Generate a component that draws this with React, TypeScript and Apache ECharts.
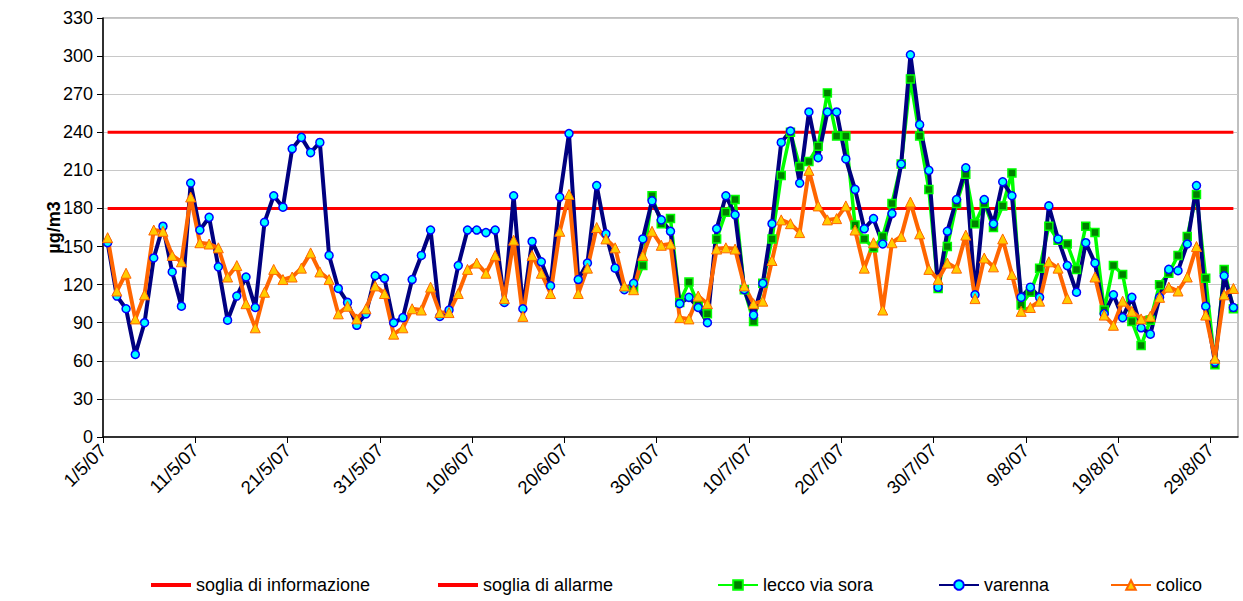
import React, { useEffect, useRef } from "react";
import * as echarts from "echarts";

// x tick labels (every 10 days starting 1/5/07)
const tickLabels = [
  "1/5/07", "11/5/07", "21/5/07", "31/5/07", "10/6/07", "20/6/07", "30/6/07",
  "10/7/07", "20/7/07", "30/7/07", "9/8/07", "19/8/07", "29/8/07",
];

const sogliaInformazione = 180;
const sogliaAllarme = 240;

// daily values, day 0 = 1/5/07 ... day 122 = 31/8/07
const varenna: (number | null)[] = [
  153, 111, 101, 65, 90, 141, 166, 130, 103, 200,
  163, 173, 134, 92, 111, 126, 102, 169, 190, 181,
  227, 236, 224, 232, 143, 117, 106, 88, 97, 127,
  125, 90, 94, 124, 143, 163, 95, 100, 135, 163,
  163, 161, 163, 106, 190, 101, 154, 138, 119, 189,
  239, 124, 137, 198, 160, 133, 116, 121, 156, 186,
  171, 162, 105, 110, 102, 90, 164, 190, 175, 116,
  96, 121, 168, 232, 241, 200, 256, 220, 256, 256,
  219, 195, 164, 172, 152, 176, 215, 301, 246, 210,
  118, 162, 187, 212, 112, 187, 168, 201, 190, 110,
  118, 110, 182, 156, 135, 114, 153, 137, 97, 112,
  94, 110, 86, 81, 110, 132, 131, 152, 198, 103,
  59, 127, 102,
];

const colico: (number | null)[] = [
  157, 115, 129, 93, 112, 163, 162, 143, 138, 189,
  153, 152, 149, 126, 135, 105, 86, 114, 132, 124,
  126, 133, 145, 130, 124, 97, 103, 93, 101, 119,
  113, 81, 86, 101, 100, 118, 98, 98, 113, 132,
  137, 129, 143, 109, 155, 95, 143, 129, 113, 162,
  191, 113, 133, 165, 156, 149, 119, 116, 143, 162,
  151, 152, 94, 93, 111, 105, 148, 149, 148, 119,
  105, 107, 139, 171, 168, 161, 210, 182, 171, 172,
  182, 163, 133, 153, 100, 153, 158, 185, 160, 132,
  124, 137, 133, 159, 109, 141, 134, 156, 128, 99,
  102, 107, 138, 133, 109, null, null, 126, 96, 88,
  107, 99, 93, 95, 110, 118, 115, 126, 150, 96,
  62, 112, 117,
];

const leccoViaSora: (number | null)[] = [
  null, null, null, null, null, null, null, null, null, null,
  null, null, null, null, null, null, null, null, null, null,
  null, null, null, null, null, null, null, null, null, null,
  null, null, null, null, null, null, null, null, null, null,
  null, null, null, null, null, null, null, null, null, null,
  null, null, null, null, null, null, null, 117, 135, 190,
  168, 172, 106, 122, 104, 97, 156, 177, 187, 116,
  91, 121, 156, 206, 240, 213, 217, 229, 271, 237,
  237, 167, 156, 149, 158, 184, 215, 282, 237, 195,
  117, 150, 184, 207, 168, 184, 165, 182, 208, 104,
  114, 133, 166, 155, 152, 132, 166, 161, 100, 135,
  128, 91, 72, 92, 120, 129, 143, 158, 191, 125,
  57, 132, 101,
];

const FONT = "Liberation Sans, Arial, sans-serif";

function toPairs(values: (number | null)[]) {
  return values.map((v, i) => [i + 0.5, v === null ? "-" : v]);
}

export default function App() {
  const ref = useRef<HTMLDivElement>(null);

  useEffect(() => {
    if (!ref.current) return;
    const chart = echarts.init(ref.current, undefined, { renderer: "svg" });
    const n = varenna.length;

    const legendItem = (name: string, left: number, plain: boolean) => ({
      data: plain ? [{ name, icon: "rect" }] : [name],
      left,
      top: 571,
      itemWidth: 40,
      itemHeight: plain ? 4 : 12,
      itemGap: 0,
      textStyle: { fontSize: 18, fontFamily: FONT, color: "#000" },
    });

    chart.setOption({
      animation: false,
      backgroundColor: "#fff",
      textStyle: { fontFamily: FONT },
      grid: {
        left: 103,
        right: 5,
        top: 18,
        bottom: 164,
        show: true,
        borderColor: "#808080",
        borderWidth: 1,
      },
      legend: [
        legendItem("soglia di informazione", 146, true),
        legendItem("soglia di allarme", 433, true),
        legendItem("lecco via sora", 712, false),
        legendItem("varenna", 933, false),
        legendItem("colico", 1105, false),
      ],
      xAxis: {
        type: "value",
        min: 0,
        max: n,
        interval: 10,
        axisLine: { show: true, onZero: false, lineStyle: { color: "#000", width: 1.5 } },
        axisTick: { show: true, length: 6, lineStyle: { color: "#000" } },
        splitLine: { show: false },
        axisLabel: {
          rotate: 45,
          fontSize: 18.5,
          fontFamily: FONT,
          color: "#000",
          margin: 10,
          showMaxLabel: false,
          formatter: (v: number) =>
            v % 10 === 0 && tickLabels[v / 10] !== undefined ? tickLabels[v / 10] : "",
        },
      },
      yAxis: {
        type: "value",
        min: 0,
        max: 330,
        interval: 30,
        name: "µg/m3",
        nameLocation: "middle",
        nameGap: 40,
        nameMoveOverlap: false,
        nameTextStyle: { fontSize: 18, fontWeight: "bold", fontFamily: FONT, color: "#000" },
        axisLine: { show: true, lineStyle: { color: "#000", width: 1.5 } },
        axisTick: { show: true, length: 6, lineStyle: { color: "#000" } },
        splitLine: { show: true, lineStyle: { color: "#c8c8c8", width: 1.2 } },
        axisLabel: { fontSize: 18, fontFamily: FONT, color: "#000", margin: 10 },
      },
      series: [
        {
          name: "soglia di informazione",
          type: "line",
          data: [[0.5, sogliaInformazione], [n - 0.5, sogliaInformazione]],
          symbol: "none",
          lineStyle: { color: "#ff0000", width: 3 },
          itemStyle: { color: "#ff0000" },
        },
        {
          name: "soglia di allarme",
          type: "line",
          data: [[0.5, sogliaAllarme], [n - 0.5, sogliaAllarme]],
          symbol: "none",
          lineStyle: { color: "#ff0000", width: 3 },
          itemStyle: { color: "#ff0000" },
        },
        {
          name: "lecco via sora",
          type: "line",
          data: toPairs(leccoViaSora),
          symbol: "rect",
          symbolSize: 8,
          lineStyle: { color: "#00ff00", width: 3.5 },
          itemStyle: { color: "#008000", borderColor: "#00ff00", borderWidth: 1.5 },
        },
        {
          name: "varenna",
          type: "line",
          data: toPairs(varenna),
          symbol: "circle",
          symbolSize: 8,
          lineStyle: { color: "#000080", width: 4 },
          itemStyle: { color: "#00ffff", borderColor: "#0000ff", borderWidth: 1.5 },
        },
        {
          name: "colico",
          type: "line",
          data: toPairs(colico),
          symbol: "triangle",
          symbolSize: 10,
          lineStyle: { color: "#ff6600", width: 4 },
          itemStyle: { color: "#ffcc00", borderColor: "#ff6600", borderWidth: 1 },
        },
      ],
    });

    return () => chart.dispose();
  }, []);

  return (
    <div
      ref={ref}
      style={{ position: "fixed", left: 0, top: 0, width: 1243, height: 601, background: "#fff" }}
    />
  );
}
